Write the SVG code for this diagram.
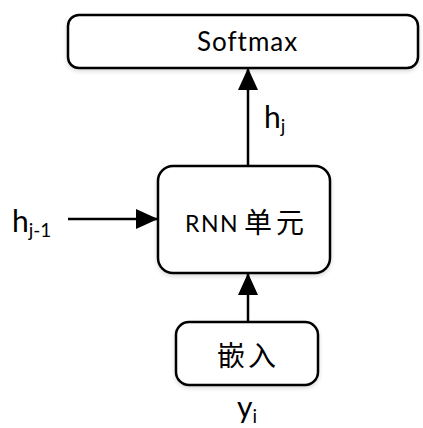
<svg xmlns="http://www.w3.org/2000/svg" width="423" height="428" viewBox="0 0 423 428">
<style>
.box{fill:#fff;stroke:#000;stroke-width:2.5}
.t{font-family:Lato,"Liberation Sans","Noto Sans CJK SC",sans-serif;fill:#000}
.cjk{font-family:"Noto Sans CJK SC",sans-serif}
.ln{stroke:#000;stroke-width:2.5;fill:none}
</style>
<defs>
<marker id="ah" markerWidth="22" markerHeight="20" refX="21" refY="10" orient="auto" markerUnits="userSpaceOnUse">
<path d="M0,0 L22,10 L0,20 Z" fill="#000"/>
</marker>
<filter id="sh" x="-10%" y="-10%" width="120%" height="130%">
<feGaussianBlur in="SourceAlpha" stdDeviation="2"/>
<feOffset dy="2"/>
<feComponentTransfer><feFuncA type="linear" slope="0.15"/></feComponentTransfer>
<feMerge><feMergeNode/><feMergeNode in="SourceGraphic"/></feMerge>
</filter>
</defs>
<g id="connectors">
<line class="ln" x1="248" y1="166" x2="248" y2="69" marker-end="url(#ah)"/>
<line class="ln" x1="68" y1="219" x2="157" y2="219" marker-end="url(#ah)"/>
<line class="ln" x1="248" y1="322" x2="248" y2="274" marker-end="url(#ah)"/>
</g>
<g id="softmax">
<rect class="box" x="68" y="15" width="350" height="53" rx="11" filter="url(#sh)"/>
<text class="t" x="197" y="51" font-size="26" letter-spacing="1">Softmax</text>
</g>
<g id="rnn">
<rect class="box" x="158" y="166" width="172" height="107" rx="15" filter="url(#sh)"/>
<text class="t" x="185" y="232" font-size="23" letter-spacing="1.5">RNN <tspan class="cjk" x="244" y="233" font-size="28" letter-spacing="4">单元</tspan></text>
</g>
<g id="embed">
<rect class="box" x="176" y="322" width="142" height="63" rx="13" filter="url(#sh)"/>
<text class="t cjk" x="248" y="366" font-size="28" letter-spacing="3" text-anchor="middle">嵌入</text>
</g>
<g id="labels">
<text class="t" x="264" y="128" font-size="30">h<tspan font-size="19" dy="5">j</tspan></text>
<text class="t" x="12" y="232" font-size="30">h<tspan font-size="19" dy="5">j-1</tspan></text>
<text class="t" x="237" y="418" font-size="30">y<tspan font-size="19" dy="5">i</tspan></text>
</g>
</svg>
